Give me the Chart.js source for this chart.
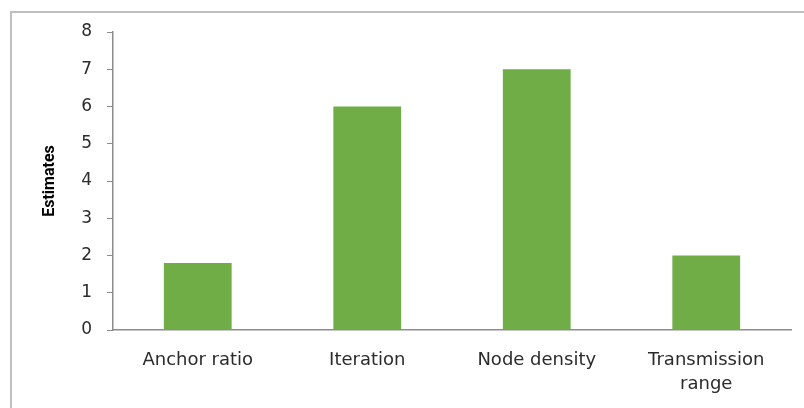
<!DOCTYPE html>
<html>
<head>
<meta charset="utf-8">
<script src="https://cdn.jsdelivr.net/npm/chart.js@4"></script>
<style>
  html, body { margin: 0; padding: 0; background: #fff; }
  .frame {
    position: absolute; left: 10px; top: 11px;
    width: 820px; height: 420px;
    border: 2px solid #bfbfbf;
  }
  #estChart { position: absolute; left: 0; top: 0; }
</style>
</head>
<body>
<div class="frame"></div>
<canvas id="estChart" width="804" height="408"></canvas>
<script>
const categories = ["Anchor ratio", "Iteration", "Node density", ["Transmission", "range"]];
const estimates = [1.8, 6, 7, 2];
const yTicks = [0, 1, 2, 3, 4, 5, 6, 7, 8];

const barColor = "#70ad47";
const axisColor = "#8c8c8c";
const textColor = "#2b2b2b";
const fontFamily = "'DejaVu Sans', sans-serif";

new Chart(document.getElementById("estChart"), {
  type: "bar",
  data: {
    labels: categories,
    datasets: [
      {
        label: "Estimates",
        data: estimates,
        backgroundColor: barColor,
        borderWidth: 0,
        categoryPercentage: 1,
        barPercentage: 0.4,
      },
    ],
  },
  options: {
    responsive: false,
    animation: false,
    layout: { padding: { top: 32, right: 13, bottom: 0, left: 0 } },
    plugins: {
      legend: { display: false },
      tooltip: { enabled: false },
    },
    scales: {
      x: {
        grid: { display: true, drawOnChartArea: false, drawTicks: false },
        border: { color: axisColor, width: 1.5 },
        ticks: {
          color: textColor,
          padding: 18,
          maxRotation: 0,
          font: { family: fontFamily, size: 18, lineHeight: 1.33 },
        },
        afterFit: (scale) => { scale.height = 78; },
      },
      y: {
        min: 0,
        max: 8,
        afterBuildTicks: (scale) => {
          scale.ticks = yTicks.map((v) => ({ value: v }));
        },
        grid: { drawOnChartArea: false, drawTicks: true, tickLength: 6, color: axisColor },
        border: { color: axisColor, width: 1.5 },
        ticks: {
          color: textColor,
          padding: 15,
          font: { family: fontFamily, size: 17 },
        },
        title: {
          display: true,
          text: "Estimates",
          color: "#000",
          padding: { top: 40, bottom: 0 },
          font: { family: "Roboto, sans-serif", size: 16, weight: "bold" },
        },
        afterFit: (scale) => { scale.width = 113; },
      },
    },
  },
});
</script>
</body>
</html>
